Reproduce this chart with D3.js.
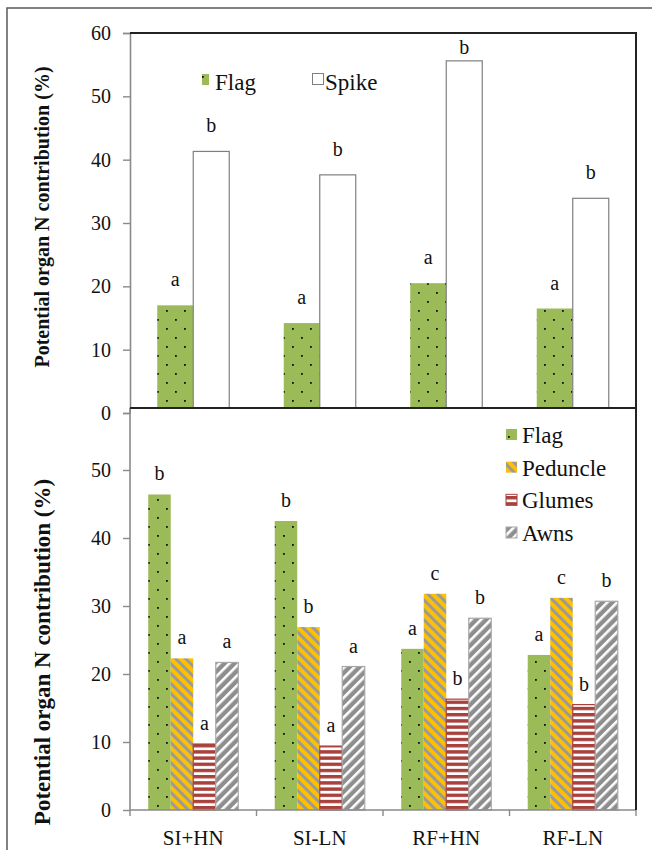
<!DOCTYPE html>
<html>
<head>
<meta charset="utf-8">
<script src="https://cdn.jsdelivr.net/npm/d3@7"></script>
<style>
  html, body { margin: 0; padding: 0; background: #fff; }
  svg { display: block; }
  svg text { font-family: "Liberation Serif", "Times New Roman", serif; }
</style>
</head>
<body>
<svg id="chart" width="652" height="850"></svg>
<script>
// ---------- data ----------
const categories = ["SI+HN", "SI-LN", "RF+HN", "RF-LN"];

const topSeries = ["Flag", "Spike"];
const topFlag  = [17.0, 14.2, 20.5, 16.5];
const topSpike = [41.3, 37.6, 55.6, 33.9];
const topFlagLetters  = ["a", "a", "a", "a"];
const topSpikeLetters = ["b", "b", "b", "b"];
const topTicks = [0, 10, 20, 30, 40, 50, 60];

const bottomSeries = ["Flag", "Peduncle", "Glumes", "Awns"];
const botFlag     = [46.4, 42.5, 23.7, 22.8];
const botPeduncle = [22.3, 26.9, 31.8, 31.2];
const botGlumes   = [9.7, 9.4, 16.3, 15.5];
const botAwns     = [21.7, 21.1, 28.2, 30.7];
const botFlagLetters     = ["b", "b", "a", "a"];
const botPeduncleLetters = ["a", "b", "c", "c"];
const botGlumesLetters   = ["a", "a", "b", "b"];
const botAwnsLetters     = ["a", "a", "b", "b"];
const bottomTicks = [0, 10, 20, 30, 40, 50];

const yTitle = "Potential organ N contribution (%)";

// ---------- setup ----------
const svg = d3.select("#chart");
const defs = svg.append("defs");

// patterns
const pDots = defs.append("pattern").attr("id", "pDots")
  .attr("patternUnits", "userSpaceOnUse").attr("width", 18).attr("height", 18);
pDots.append("rect").attr("width", 18).attr("height", 18).attr("fill", "#9BBB59");
pDots.append("rect").attr("x", 4).attr("y", 4).attr("width", 1.8).attr("height", 1.8).attr("fill", "#111");
pDots.append("rect").attr("x", 13).attr("y", 13).attr("width", 1.8).attr("height", 1.8).attr("fill", "#111");

const pPed = defs.append("pattern").attr("id", "pPed")
  .attr("patternUnits", "userSpaceOnUse").attr("width", 7).attr("height", 7)
  .attr("patternTransform", "rotate(-45)");
pPed.append("rect").attr("width", 7).attr("height", 7).attr("fill", "#FFC000");
pPed.append("rect").attr("width", 3).attr("height", 7).attr("fill", "#9A9A9A");

const pGlu = defs.append("pattern").attr("id", "pGlu")
  .attr("patternUnits", "userSpaceOnUse").attr("width", 6.2).attr("height", 6.2);
pGlu.append("rect").attr("width", 6.2).attr("height", 6.2).attr("fill", "#fff");
pGlu.append("rect").attr("width", 6.2).attr("height", 3.4).attr("fill", "#A9403C");

const pAwn = defs.append("pattern").attr("id", "pAwn")
  .attr("patternUnits", "userSpaceOnUse").attr("width", 7).attr("height", 7)
  .attr("patternTransform", "rotate(45)");
pAwn.append("rect").attr("width", 7).attr("height", 7).attr("fill", "#8E8E8E");
pAwn.append("rect").attr("width", 2.6).attr("height", 7).attr("fill", "#fff");

// outer frame
svg.append("rect").attr("x", 7).attr("y", 8).attr("width", 700).attr("height", 900)
  .attr("fill", "none").attr("stroke", "#5a5a5a").attr("stroke-width", 1.5);

const x = d3.scaleBand().domain(categories).range([130, 636]).paddingInner(0).paddingOuter(0);

// ================= TOP CHART =================
const yT = d3.scaleLinear().domain([0, 60]).range([413, 33]);
const xT = d3.scaleBand().domain(topSeries).range([0, x.bandwidth()]).paddingInner(0).paddingOuter(0.757);

const gTop = svg.append("g");
// y axis
const axT = gTop.append("g").attr("transform", "translate(130,0)")
  .call(d3.axisLeft(yT).tickValues(topTicks).tickSize(7).tickPadding(12).tickFormat(d3.format("d")));
axT.select(".domain").attr("stroke", "#8a8a8a").attr("stroke-width", 1.6);
axT.selectAll(".tick line").attr("stroke", "#8a8a8a").attr("stroke-width", 1.4);
axT.selectAll(".tick text").attr("font-size", 20).attr("fill", "#111");

const topData = [
  { key: "Flag", vals: topFlag, letters: topFlagLetters, fill: "url(#pDots)", stroke: "none" },
  { key: "Spike", vals: topSpike, letters: topSpikeLetters, fill: "#fff", stroke: "#7f7f7f" }
];
topData.forEach(s => {
  gTop.selectAll(null).data(categories).enter().append("rect")
    .attr("x", (c) => x(c) + xT(s.key))
    .attr("y", (c, i) => yT(s.vals[i]))
    .attr("width", xT.bandwidth())
    .attr("height", (c, i) => yT(0) - yT(s.vals[i]))
    .attr("fill", s.fill).attr("stroke", s.stroke).attr("stroke-width", 1.2);
  gTop.selectAll(null).data(categories).enter().append("text")
    .attr("x", (c) => x(c) + xT(s.key) + xT.bandwidth() / 2)
    .attr("y", (c, i) => Math.max(yT(s.vals[i]) - 19, yT(60) + 21))
    .attr("text-anchor", "middle").attr("font-size", 20).attr("fill", "#111")
    .text((c, i) => s.letters[i]);
});
// top plot border (top & right)
gTop.append("path").attr("d", `M130,${yT(60)} H636 V413`).attr("fill", "none")
  .attr("stroke", "#222").attr("stroke-width", 2);

// top legend
gTop.append("rect").attr("x", 202).attr("y", 74).attr("width", 7).attr("height", 11).attr("fill", "url(#pDots)");
gTop.append("text").attr("x", 215).attr("y", 90).attr("font-size", 23).attr("fill", "#111").text(topSeries[0]);
gTop.append("rect").attr("x", 312.5).attr("y", 73.5).attr("width", 11).attr("height", 11)
  .attr("fill", "#fff").attr("stroke", "#7f7f7f").attr("stroke-width", 1);
gTop.append("text").attr("x", 325).attr("y", 90).attr("font-size", 23).attr("fill", "#111").text(topSeries[1]);

// top title
gTop.append("text").attr("transform", `translate(49,217) rotate(-90)`)
  .attr("text-anchor", "middle").attr("font-size", 20).attr("font-weight", "bold").attr("fill", "#111")
  .text(yTitle);

// ================= BOTTOM CHART =================
const yB = d3.scaleLinear().domain([0, 60]).range([810, 402]);
const xB = d3.scaleBand().domain(bottomSeries).range([0, x.bandwidth()]).paddingInner(0).paddingOuter(0.81);

const gBot = svg.append("g");
// white plot background covering the bottom of the top chart
gBot.append("rect").attr("x", 131).attr("y", 408).attr("width", 505).attr("height", 402).attr("fill", "#fff");

const botData = [
  { key: "Flag", vals: botFlag, letters: botFlagLetters, fill: "url(#pDots)", stroke: "none" },
  { key: "Peduncle", vals: botPeduncle, letters: botPeduncleLetters, fill: "url(#pPed)", stroke: "none" },
  { key: "Glumes", vals: botGlumes, letters: botGlumesLetters, fill: "url(#pGlu)", stroke: "#A9403C" },
  { key: "Awns", vals: botAwns, letters: botAwnsLetters, fill: "url(#pAwn)", stroke: "#a8a8a8" }
];
botData.forEach(s => {
  gBot.selectAll(null).data(categories).enter().append("rect")
    .attr("x", (c) => x(c) + xB(s.key))
    .attr("y", (c, i) => yB(s.vals[i]))
    .attr("width", xB.bandwidth())
    .attr("height", (c, i) => yB(0) - yB(s.vals[i]))
    .attr("fill", s.fill).attr("stroke", s.stroke).attr("stroke-width", 1.2);
  gBot.selectAll(null).data(categories).enter().append("text")
    .attr("x", (c) => x(c) + xB(s.key) + xB.bandwidth() / 2)
    .attr("y", (c, i) => yB(s.vals[i]) - 14)
    .attr("text-anchor", "middle").attr("font-size", 20).attr("fill", "#111")
    .text((c, i) => s.letters[i]);
});

// y axis
const axB = gBot.append("g").attr("transform", "translate(130,0)")
  .call(d3.axisLeft(yB).tickValues(bottomTicks).tickSize(7).tickPadding(12).tickFormat(d3.format("d")));
axB.select(".domain").attr("d", `M-0,408 V810`).attr("stroke", "#8a8a8a").attr("stroke-width", 1.6);
axB.selectAll(".tick line").attr("stroke", "#8a8a8a").attr("stroke-width", 1.4);
axB.selectAll(".tick text").attr("font-size", 20).attr("fill", "#111");

// x axis with boundary ticks
const axX = gBot.append("g").attr("transform", "translate(0,810)");
axX.append("line").attr("x1", 130).attr("x2", 636).attr("stroke", "#8a8a8a").attr("stroke-width", 1.6);
const bounds = categories.map(c => x(c)).concat([x(categories[categories.length - 1]) + x.bandwidth()]);
axX.selectAll(null).data(bounds).enter().append("line")
  .attr("x1", d => d).attr("x2", d => d).attr("y1", 0).attr("y2", 6)
  .attr("stroke", "#8a8a8a").attr("stroke-width", 1.4);
axX.selectAll(null).data(categories).enter().append("text")
  .attr("x", c => x(c) + x.bandwidth() / 2).attr("y", 35)
  .attr("text-anchor", "middle").attr("font-size", 21).attr("fill", "#111").text(c => c);

// bottom plot border (top & right)
gBot.append("path").attr("d", `M130,408 H636 V810`).attr("fill", "none")
  .attr("stroke", "#222").attr("stroke-width", 2);

// bottom legend
const legY = d3.scalePoint().domain(bottomSeries).range([435, 533]);
bottomSeries.forEach((k, i) => {
  const s = botData[i];
  gBot.append("rect").attr("x", 506).attr("y", legY(k) - 6).attr("width", 11).attr("height", 11)
    .attr("fill", s.fill).attr("stroke", s.stroke === "none" ? "none" : s.stroke).attr("stroke-width", 1);
  gBot.append("text").attr("x", 522).attr("y", legY(k) + 8).attr("font-size", 23).attr("fill", "#111").text(k);
});

// bottom title
gBot.append("text").attr("transform", `translate(50,652) rotate(-90)`)
  .attr("text-anchor", "middle").attr("font-size", 23).attr("font-weight", "bold").attr("fill", "#111")
  .text(yTitle);
</script>
</body>
</html>
